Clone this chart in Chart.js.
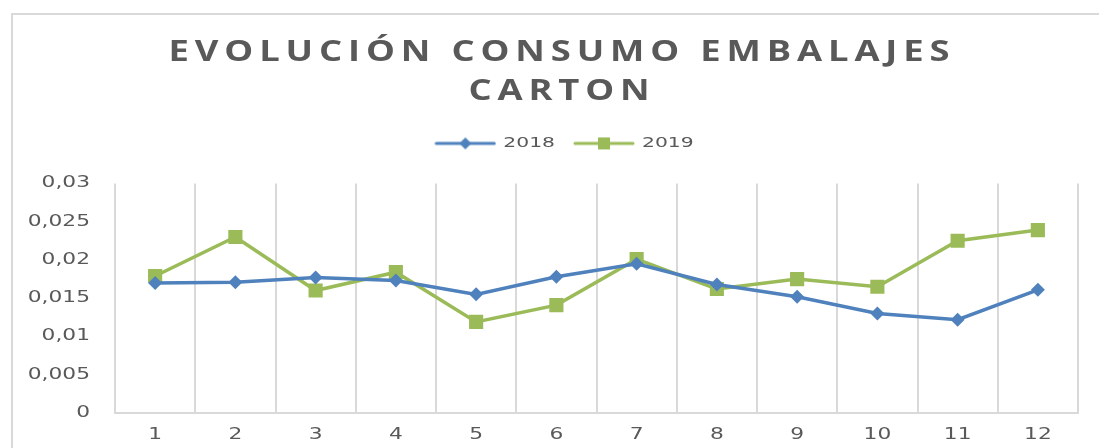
<!DOCTYPE html>
<html>
<head>
<meta charset="utf-8">
<script src="https://cdn.jsdelivr.net/npm/chart.js@4.4.1/dist/chart.umd.min.js"></script>
<style>
  body { margin: 0; background: #fff; }
  canvas { display: block; }
</style>
</head>
<body>
<canvas id="consumoChart" width="1099" height="448"></canvas>
<script>
// datos
const meses = ['1', '2', '3', '4', '5', '6', '7', '8', '9', '10', '11', '12'];
const datos2018 = [0.0170, 0.0171, 0.0177, 0.0173, 0.0155, 0.0178, 0.0195, 0.0168, 0.0152, 0.0130, 0.0122, 0.0161];
const datos2019 = [0.0179, 0.0230, 0.0160, 0.0184, 0.0119, 0.0141, 0.0201, 0.0162, 0.0175, 0.0165, 0.0225, 0.0239];
const tituloLineas = ['EVOLUCIÓN CONSUMO EMBALAJES', 'CARTON'];

const azul = '#4f81bd';
const verde = '#9bbb59';
const gris = '#595959';

// icono de leyenda: linea con marcador
function iconoLeyenda(color, forma) {
  const c = document.createElement('canvas');
  c.width = 62;
  c.height = 14;
  const g = c.getContext('2d');
  g.strokeStyle = color;
  g.lineWidth = 3;
  g.lineCap = 'round';
  g.beginPath();
  g.moveTo(2, 7);
  g.lineTo(60, 7);
  g.stroke();
  g.fillStyle = color;
  g.beginPath();
  if (forma === 'diamante') {
    g.moveTo(31, 1); g.lineTo(37, 7); g.lineTo(31, 13); g.lineTo(25, 7);
  } else {
    g.rect(25, 1, 12, 12);
  }
  g.closePath();
  g.fill();
  return c;
}
const iconos = [iconoLeyenda(azul, 'diamante'), iconoLeyenda(verde, 'cuadrado')];

const ctx = document.getElementById('consumoChart').getContext('2d');

// el texto del original esta estirado en horizontal
let estiramiento = 1.45;
const fillOrig = ctx.fillText;
ctx.fillText = function (t, x, y, mw) {
  this.save();
  this.translate(x, y);
  this.scale(estiramiento, 1);
  if (mw === undefined) fillOrig.call(this, t, 0, 0);
  else fillOrig.call(this, t, 0, 0, mw / estiramiento);
  this.restore();
};
const measureOrig = ctx.measureText;
ctx.measureText = function (t) {
  const m = measureOrig.call(this, t);
  return {
    width: m.width * estiramiento,
    actualBoundingBoxAscent: m.actualBoundingBoxAscent,
    actualBoundingBoxDescent: m.actualBoundingBoxDescent,
    actualBoundingBoxLeft: m.actualBoundingBoxLeft * estiramiento,
    actualBoundingBoxRight: m.actualBoundingBoxRight * estiramiento
  };
};

function desplazar(box, dx, antes, despues) {
  const dibujar = box.draw;
  box.draw = function () {
    this.ctx.save();
    this.ctx.translate(dx, 0);
    if (antes) antes(this.ctx);
    dibujar.apply(this, arguments);
    if (despues) despues(this.ctx);
    this.ctx.restore();
  };
  box._envuelto = true;
}

const estiloPlugin = {
  id: 'estilo',
  beforeLayout(chart) {
    const lg = chart.legend;
    if (lg && !lg._ajustado) {
      const fit = lg.fit;
      lg.fit = function () {
        fit.apply(this, arguments);
        this.height += 23;
      };
      lg._ajustado = true;
    }
  },
  beforeDraw(chart) {
    const c = chart.ctx;
    const tb = chart.titleBlock;
    if (tb && !tb._envuelto) {
      desplazar(tb, 23,
        g => { g.letterSpacing = '4.5px'; estiramiento = 1.3; },
        g => { g.letterSpacing = '0px'; estiramiento = 1.45; });
    }
    const lg = chart.legend;
    if (lg && !lg._envuelto) {
      desplazar(lg, 25);
    }
    c.save();
    c.strokeStyle = '#d9d9d9';
    c.lineWidth = 2;
    c.strokeRect(12, 14, 1200, 600);
    c.restore();
  }
};

new Chart(ctx, {
  type: 'line',
  data: {
    labels: meses,
    datasets: [
      {
        label: '2018',
        data: datos2018,
        borderColor: azul,
        backgroundColor: azul,
        borderWidth: 3.5,
        pointStyle: 'rectRot',
        pointRadius: 7,
        pointBorderWidth: 0,
        tension: 0
      },
      {
        label: '2019',
        data: datos2019,
        borderColor: verde,
        backgroundColor: verde,
        borderWidth: 3.5,
        pointStyle: 'rect',
        pointRadius: 10,
        pointBorderWidth: 0,
        tension: 0
      }
    ]
  },
  options: {
    responsive: false,
    animation: false,
    devicePixelRatio: 1,
    layout: { padding: { left: 0, right: 21, top: 0, bottom: 0 } },
    plugins: {
      title: {
        display: true,
        text: tituloLineas,
        color: gris,
        font: { family: 'Open Sans', size: 28, weight: 'bold', lineHeight: 1.4 },
        padding: { top: 33, bottom: 7 }
      },
      legend: {
        display: true,
        position: 'top',
        labels: {
          usePointStyle: true,
          pointStyleWidth: 62,
          padding: 18,
          color: gris,
          font: { family: 'DejaVu Sans', size: 14 },
          generateLabels(chart) {
            const base = Chart.defaults.plugins.legend.labels.generateLabels(chart);
            return base.map((item, i) => Object.assign(item, { pointStyle: iconos[i] }));
          }
        }
      },
      tooltip: { enabled: false }
    },
    scales: {
      x: {
        offset: true,
        grid: { display: true, offset: true, color: '#d9d9d9', lineWidth: 2, drawTicks: false },
        border: { display: true, color: '#d9d9d9', width: 2 },
        ticks: { color: gris, font: { family: 'DejaVu Sans', size: 15 }, padding: 13 },
        afterFit(scale) { scale.height = 35; }
      },
      y: {
        min: 0,
        max: 0.03,
        grid: { display: false },
        border: { display: false },
        ticks: {
          stepSize: 0.005,
          color: gris,
          font: { family: 'DejaVu Sans', size: 15 },
          padding: 17,
          callback: v => String(Number(v.toFixed(3))).replace('.', ',')
        },
        afterFit(scale) { scale.width = 115; }
      }
    }
  },
  plugins: [estiloPlugin]
});
</script>
</body>
</html>
